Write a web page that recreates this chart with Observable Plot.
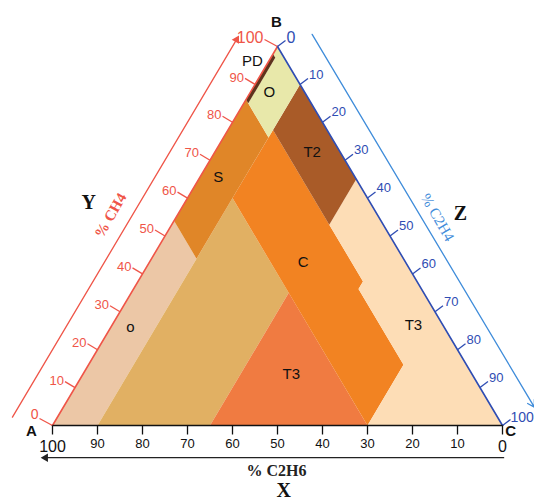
<!DOCTYPE html>
<html>
<head>
<meta charset="utf-8">
<script src="https://cdn.jsdelivr.net/npm/d3@7"></script>
<script src="https://cdn.jsdelivr.net/npm/@observablehq/plot@0.6"></script>
<style>
  body { margin: 0; background: #fff; }
  #chart svg { display: block; }
</style>
</head>
<body>
<div id="chart"></div>
<script>
// ---------- DATA (vertices as [CH4, C2H4, C2H6] in %) ----------
const zoneNames  = ["o", "tan", "T3 low", "C", "T3 high", "T2", "S", "O", "PD"];
const zoneColors = ["#ECC7A6", "#E1B063", "#F07B41", "#F28322", "#FDDDB6", "#A95B28", "#E08628", "#E8E8AA", "#5E331C"];
const zoneO_low  = [[54,0,46],[44,10,46],[0,10,90],[0,0,100]];
const zoneTan    = [[60,10,30],[35,35,30],[0,35,65],[0,10,90]];
const zoneT3_low = [[35,35,30],[0,70,30],[0,35,65]];
const zoneC      = [[78,10,12],[60,10,30],[0,70,30],[16,70,14],[36,50,14],[38,50,12]];
const zoneT3_hi  = [[65,35,0],[53,35,12],[38,50,12],[36,50,14],[16,70,14],[0,70,30],[0,100,0]];
const zoneT2     = [[90,10,0],[78,10,12],[53,35,12],[65,35,0]];
const zoneS      = [[86,0,14],[76,10,14],[44,10,46],[54,0,46]];
const zoneO_top  = [[100,0,0],[90,10,0],[76,10,14],[85,1,14],[97,1,2],[98,0,2]];
const zonePD     = [[98,0,2],[97,1,2],[85,1,14],[86,0,14]];
const zoneVertices = [zoneO_low, zoneTan, zoneT3_low, zoneC, zoneT3_hi, zoneT2, zoneS, zoneO_top, zonePD];

const zoneLabelText = ["PD", "O", "S", "T2", "C", "o", "T3", "T3"];
const zoneLabelCH4  = [96, 88, 65.5, 72, 43, 26, 13.5, 26.4];
const zoneLabelC2H4 = [-3.6, 4.2, 4.1, 21.7, 34.2, 4.3, 46.3, 67];

const ch4Ticks  = [0,10,20,30,40,50,60,70,80,90,100];
const c2h4Ticks = [0,10,20,30,40,50,60,70,80,90,100];
const c2h6Ticks = [100,90,80,70,60,50,40,30,20,10,0];

// annotation texts: [text, CH4, C2H4]
const cornerText = ["A", "B", "C"];
const cornerCH4  = [-1.6, 106.3, -1.6];
const cornerC2H4 = [-3.9, -3.4, 102.6];

const axisLetterText = ["Y", "Z", "X"];
const axisLetterCH4  = [58.9, 55.9, -17.2];
const axisLetterC2H4 = [-21.4, 62.7, 60.0];

// ---------- geometry helpers ----------
const X0 = 52, X1 = 502, Y0 = 425, Y1 = 46;
const sx = X1 - X0, sy = Y0 - Y1;
const pt = (ch4, c2h4) => ({u: (c2h4 + ch4 / 2) / 100, v: ch4 / 100});

const polys = zoneVertices.flatMap((verts, i) =>
  verts.map(([a, b]) => ({zone: zoneNames[i], color: zoneColors[i], ...pt(a, b)})));

const leftTicks = ch4Ticks.map(t => ({t, ...pt(t, 0)}));
const rightTicks = c2h4Ticks.map(t => ({t, ...pt(100 - t, t)}));
const bottomTicks = c2h6Ticks.map(t => ({t, ...pt(0, 100 - t)}));
const isEnd = d => d.t === 0 || d.t === 100;

const zoneLabels = zoneLabelText.map((s, i) => ({s, ...pt(zoneLabelCH4[i], zoneLabelC2H4[i])}));
const corners = cornerText.map((s, i) => ({s, ...pt(cornerCH4[i], cornerC2H4[i])}));
const letters = axisLetterText.map((s, i) => ({s, ...pt(axisLetterCH4[i], axisLetterC2H4[i])}));

const edgeLeft = [pt(0, 0), pt(100, 0)];
const edgeRight = [pt(100, 0), pt(0, 100)];
const edgeBase = [pt(0, 0), pt(0, 100)];

// outer axis guides (C2H4 = -10 ; C2H6 = -10 ; CH4 = -8.5)
const redGuide = [pt(2.2, -10), pt(101.8, -10)];
const blueGuide = [pt(103.2, 6.1), pt(4.8, 104.7)];
const blackGuide = [pt(-8.5, 104.5), pt(-8.5, 2.7)];

const ch4Title = [{s: "% CH4", ...pt(55.4, -14.8)}];
const c2h4Title = [{s: "% C2H4", ...pt(54.9, 58.1)}];
const c2h6Title = [{s: "% C2H6", ...pt(-11.9, 55.7)}];

const RED = "#EF5548", BLUE = "#2F4DB3", LBLUE = "#3F8CDA";
const SANS = "Liberation Sans, Arial, sans-serif";
const SERIF = "Liberation Serif, Times New Roman, serif";

const marks = [];
zoneNames.forEach(z => {
  marks.push(Plot.line(polys.filter(d => d.zone === z), {
    x: "u", y: "v", fill: polys.find(d => d.zone === z).color, stroke: "none", curve: "linear-closed"
  }));
});
marks.push(
  Plot.line(edgeLeft, {x: "u", y: "v", stroke: RED, strokeWidth: 1.6}),
  Plot.line(edgeRight, {x: "u", y: "v", stroke: BLUE, strokeWidth: 1.6}),
  Plot.line(edgeBase, {x: "u", y: "v", stroke: "#111", strokeWidth: 1.6}),
  // left ticks
  Plot.link(leftTicks, {x1: "u", y1: "v", x2: d => d.u - (isEnd(d) ? 13 : 10) / sx, y2: d => d.v + (isEnd(d) ? 7 : 6) / sy, stroke: RED, strokeWidth: 1.3}),
  Plot.text(leftTicks.filter(d => !isEnd(d)), {x: "u", y: "v", text: d => String(d.t), dx: -11, dy: -7, textAnchor: "end", fill: RED,
    fontSize: 13, fontFamily: SANS}),
  Plot.text(leftTicks.filter(d => d.t === 100), {x: "u", y: "v", text: d => String(d.t), dx: -14, dy: -9, textAnchor: "end", fill: RED,
    fontSize: 16, fontFamily: SANS}),
  Plot.text(leftTicks.filter(d => d.t === 0), {x: "u", y: "v", text: d => String(d.t), dx: -14, dy: -11, textAnchor: "end", fill: RED,
    fontSize: 14, fontFamily: SANS}),
  // right ticks
  Plot.link(rightTicks, {x1: "u", y1: "v", x2: d => d.u + 8 / sx, y2: d => d.v + 6 / sy, stroke: BLUE, strokeWidth: 1.3}),
  Plot.text(rightTicks.filter(d => !isEnd(d)), {x: "u", y: "v", text: d => String(d.t), dx: 9, dy: -10, textAnchor: "start", fill: BLUE,
    fontSize: 13, fontFamily: SANS}),
  Plot.text(rightTicks.filter(d => d.t === 0), {x: "u", y: "v", text: d => String(d.t), dx: 9, dy: -9, textAnchor: "start", fill: BLUE,
    fontSize: 16, fontFamily: SANS}),
  Plot.text(rightTicks.filter(d => d.t === 100), {x: "u", y: "v", text: d => String(d.t), dx: 8, dy: -8, textAnchor: "start", fill: BLUE,
    fontSize: 14, fontFamily: SANS}),
  // bottom ticks
  Plot.link(bottomTicks, {x1: "u", y1: "v", x2: "u", y2: d => d.v - 9 / sy, stroke: "#111", strokeWidth: 1.3}),
  Plot.text(bottomTicks.filter(d => !isEnd(d)), {x: "u", y: "v", text: d => String(d.t), dy: 18, fill: "#111",
    fontSize: 13, fontFamily: SANS}),
  Plot.text(bottomTicks.filter(isEnd), {x: "u", y: "v", text: d => String(d.t), dy: 21, fill: "#111",
    fontSize: 16, fontFamily: SANS}),
  // guides
  Plot.line(redGuide, {x: "u", y: "v", stroke: RED, strokeWidth: 1.3}),
  Plot.dot(redGuide.slice(1), {x: "u", y: "v", symbol: "triangle2", r: 4, fill: RED, stroke: "none", rotate: 30}),
  Plot.arrow([{a: blueGuide[0], b: blueGuide[1]}], {x1: d => d.a.u, y1: d => d.a.v, x2: d => d.b.u, y2: d => d.b.v,
    stroke: LBLUE, strokeWidth: 1.3, headLength: 9}),
  Plot.line(blackGuide, {x: "u", y: "v", stroke: "#222", strokeWidth: 1.3}),
  Plot.dot(blackGuide.slice(1), {x: "u", y: "v", symbol: "triangle2", r: 4, fill: "#222", stroke: "none", rotate: -90}),
  // titles
  Plot.text(ch4Title, {x: "u", y: "v", text: "s", rotate: -60, fill: RED, fontSize: 15, fontWeight: "bold", fontFamily: SERIF}),
  Plot.text(c2h4Title, {x: "u", y: "v", text: "s", rotate: 60, fill: LBLUE, fontSize: 15, fontFamily: SERIF}),
  Plot.text(c2h6Title, {x: "u", y: "v", text: "s", fill: "#222", fontSize: 16, fontWeight: "bold", fontFamily: SERIF}),
  Plot.text(letters, {x: "u", y: "v", text: "s", fill: "#111", fontSize: 20, fontWeight: "bold", fontFamily: SERIF}),
  Plot.text(corners, {x: "u", y: "v", text: "s", fill: "#111", fontSize: 15, fontWeight: "bold", fontFamily: SANS}),
  Plot.text(zoneLabels, {x: "u", y: "v", text: "s", fill: "#111", fontSize: 15, fontFamily: SANS})
);

const chart = Plot.plot({
  width: 534,
  height: 500,
  margin: 0,
  x: {domain: [0, 1], range: [X0, X1], axis: null},
  y: {domain: [0, 1], range: [Y0, Y1], axis: null},
  style: {background: "#fff", overflow: "visible"},
  marks
});
document.getElementById("chart").appendChild(chart);
</script>
</body>
</html>
